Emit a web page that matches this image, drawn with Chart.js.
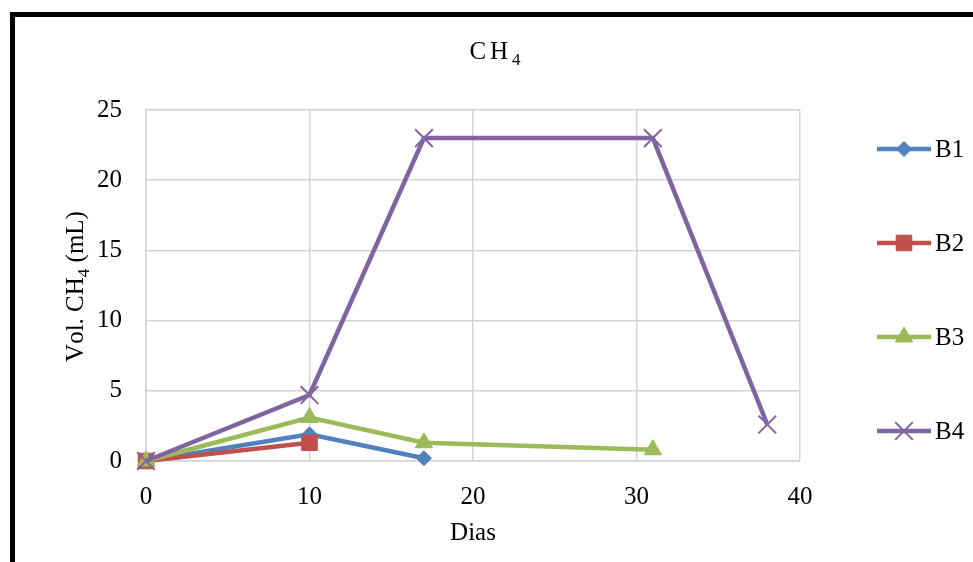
<!DOCTYPE html>
<html>
<head>
<meta charset="utf-8">
<script src="https://cdn.jsdelivr.net/npm/chart.js@4/dist/chart.umd.min.js"></script>
<style>
  html, body { margin: 0; padding: 0; background: #fff; }
  #wrap { position: relative; width: 973px; height: 562px; }
</style>
</head>
<body>
<div id="wrap"><canvas id="ch4Chart" width="973" height="562"></canvas></div>
<script>
// dias de medição e volume de CH4 (mL) por biodigestor
const diasB1 = [0, 10, 17];
const volB1 = [0, 1.9, 0.2];
const diasB2 = [0, 10];
const volB2 = [0, 1.3];
const diasB3 = [0, 10, 17, 31];
const volB3 = [0, 3.1, 1.3, 0.8];
const diasB4 = [0, 10, 17, 31, 38];
const volB4 = [0, 4.7, 23, 23, 2.6];

const seriesNames = ['B1', 'B2', 'B3', 'B4'];
const seriesColors = ['#4F81BD', '#C0504D', '#9BBB59', '#8064A2'];
const xTicks = [0, 10, 20, 30, 40];
const yTicks = [0, 5, 10, 15, 20, 25];

const FONT = "'Liberation Serif', 'Times New Roman', serif";

function pontos(dias, vals) {
    return dias.map((d, i) => ({ x: d, y: vals[i] }));
}

const markers = [
    { pointStyle: 'rectRot', radius: 7.5, borderWidth: 1 },
    { pointStyle: 'rect', radius: 11, borderWidth: 1 },
    { pointStyle: 'triangle', radius: 10, borderWidth: 1 },
    { pointStyle: 'crossRot', radius: 12.5, borderWidth: 2 }
];

const allData = [pontos(diasB1, volB1), pontos(diasB2, volB2), pontos(diasB3, volB3), pontos(diasB4, volB4)];

const datasets = allData.map((d, i) => ({
    label: seriesNames[i],
    data: d,
    borderColor: seriesColors[i],
    backgroundColor: seriesColors[i],
    borderWidth: 4.5,
    pointStyle: markers[i].pointStyle,
    pointRadius: markers[i].radius,
    pointHoverRadius: markers[i].radius,
    pointBorderWidth: markers[i].borderWidth,
    pointBackgroundColor: seriesColors[i],
    pointBorderColor: seriesColors[i],
    tension: 0,
    clip: false,
    order: 4 - i
}));

// texto com índice (subscrito) desenhado à mão
function drawSubText(ctx, parts, x, y, size, spacing) {
    let total = 0;
    const widths = parts.map(p => {
        ctx.font = (p.sub ? size * 0.68 : size) + 'px ' + FONT;
        let w = 0;
        for (const ch of p.t) w += ctx.measureText(ch).width + spacing;
        return w;
    });
    widths.forEach(w => total += w);
    total -= spacing;
    let cx = x - total / 2;
    parts.forEach(p => {
        ctx.font = (p.sub ? size * 0.68 : size) + 'px ' + FONT;
        const dy = p.sub ? size * 0.24 : 0;
        for (const ch of p.t) {
            ctx.fillText(ch, cx, y + dy);
            cx += ctx.measureText(ch).width + spacing;
        }
    });
}

const decor = {
    id: 'decor',
    beforeDraw(chart) {
        const ctx = chart.ctx;
        ctx.save();
        ctx.strokeStyle = '#000';
        ctx.lineWidth = 5;
        ctx.strokeRect(12.5, 14.5, 1100, 1000);
        ctx.restore();
    },
    afterDraw(chart) {
        const ctx = chart.ctx;
        const area = chart.chartArea;
        ctx.save();
        ctx.fillStyle = '#000';
        ctx.textAlign = 'left';
        ctx.textBaseline = 'alphabetic';

        // título
        drawSubText(ctx, [{ t: 'CH' }, { t: '4', sub: true }], 495, 59, 25, 4);

        // título do eixo x
        ctx.font = '25px ' + FONT;
        ctx.textAlign = 'center';
        ctx.fillText('Dias', (area.left + area.right) / 2, 540);

        // título do eixo y
        ctx.save();
        ctx.translate(83, (area.top + area.bottom) / 2 + 1);
        ctx.rotate(-Math.PI / 2);
        ctx.textAlign = 'left';
        drawSubText(ctx, [{ t: 'Vol. CH' }, { t: '4', sub: true }, { t: ' (mL)' }], 0, 0, 25, 0);
        ctx.restore();

        // legenda
        const legendY = [149, 243, 337, 431];
        chart.data.datasets.forEach((ds, i) => {
            const y = legendY[i];
            ctx.strokeStyle = ds.borderColor;
            ctx.lineWidth = 4.5;
            ctx.beginPath();
            ctx.moveTo(877, y);
            ctx.lineTo(931, y);
            ctx.stroke();
            ctx.fillStyle = ds.backgroundColor;
            ctx.strokeStyle = ds.borderColor;
            ctx.lineWidth = ds.pointBorderWidth;
            Chart.helpers.drawPoint(ctx, {
                pointStyle: ds.pointStyle,
                radius: ds.pointRadius,
                borderWidth: ds.pointBorderWidth,
                rotation: 0
            }, 904, y);
            ctx.fillStyle = '#000';
            ctx.font = '25px ' + FONT;
            ctx.textAlign = 'left';
            ctx.fillText(ds.label, 935, y + 8);
        });
        ctx.restore();
    }
};

new Chart(document.getElementById('ch4Chart').getContext('2d'), {
    type: 'line',
    data: { datasets: datasets },
    options: {
        responsive: false,
        animation: false,
        events: [],
        layout: { padding: { left: 0, top: 110, right: 173, bottom: 0 } },
        plugins: {
            legend: { display: false },
            title: { display: false },
            tooltip: { enabled: false }
        },
        scales: {
            x: {
                type: 'linear',
                min: 0,
                max: 40,
                afterBuildTicks(axis) { axis.ticks = xTicks.map(v => ({ value: v })); },
                afterFit(axis) { axis.height = 101; },
                grid: { color: '#d4d4d4', lineWidth: 1.5, drawTicks: false },
                border: { color: '#d4d4d4', width: 1.5 },
                ticks: { color: '#000', padding: 21, font: { family: FONT, size: 25 } }
            },
            y: {
                type: 'linear',
                min: 0,
                max: 25,
                afterBuildTicks(axis) { axis.ticks = yTicks.map(v => ({ value: v })); },
                afterFit(axis) { axis.width = 146; },
                grid: { color: '#d4d4d4', lineWidth: 1.5, drawTicks: false },
                border: { color: '#d4d4d4', width: 1.5 },
                ticks: { color: '#000', padding: 24, font: { family: FONT, size: 25 } }
            }
        }
    },
    plugins: [decor]
});
</script>
</body>
</html>
